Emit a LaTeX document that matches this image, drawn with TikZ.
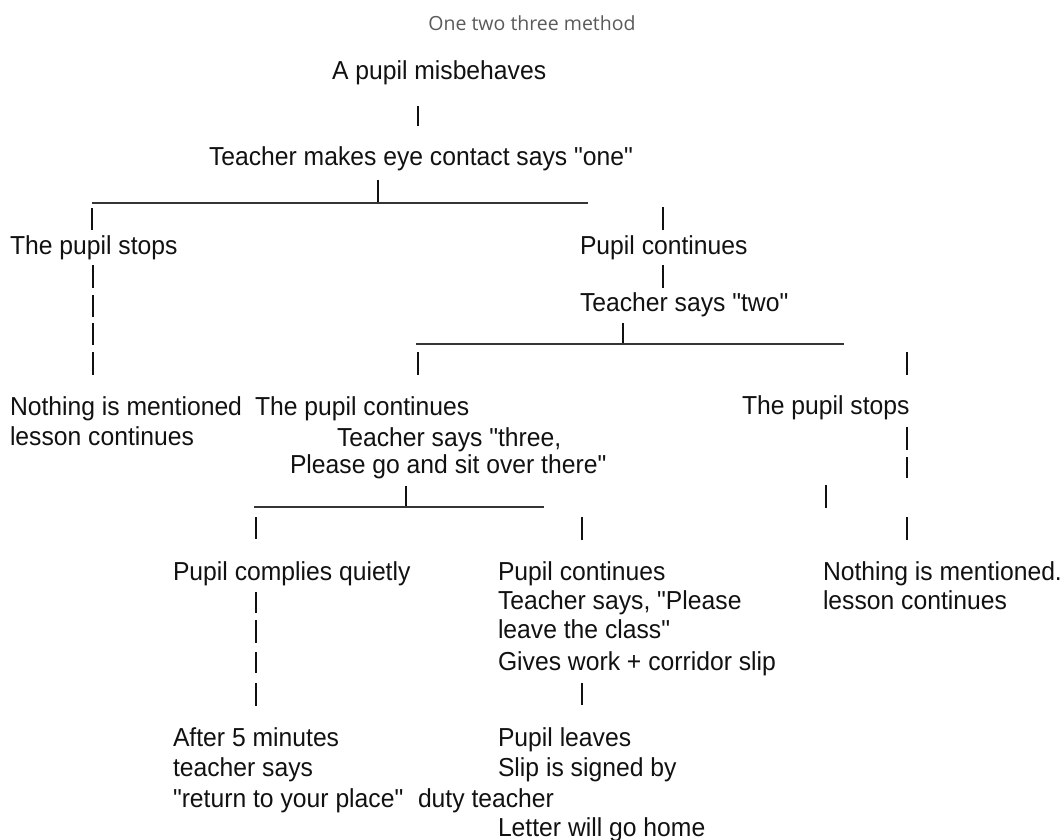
\documentclass[tikz,border=0pt]{standalone}
\usepackage{fontspec}
\newfontfamily\mainff[FakeStretch=0.95]{Liberation Sans}
\newfontfamily\titleff{Open Sans}
\definecolor{titlegray}{HTML}{5A5A5A}
\definecolor{ink}{HTML}{111111}
\tikzset{
  txt/.style={anchor=base west, inner sep=0pt, outer sep=0pt, text=ink, font=\mainff\fontsize{26}{30}\selectfont},
  ttl/.style={anchor=base, inner sep=0pt, text=titlegray, font=\titleff\fontsize{19.5}{22}\selectfont},
  pipe/.style={draw=ink, line width=1.5pt},
  hline/.style={draw=ink!85, line width=1.6pt}
}
\begin{document}
\begin{tikzpicture}[x=1pt,y=-1pt]
\useasboundingbox (0,0) rectangle (1063,840);
% title
\node[ttl] (title) at (532,31) {One two three method};
% level 0
\node[txt] (mis) at (332,80) {A pupil misbehaves};
\draw[pipe] (418,106) -- (418,126);
\node[txt] (one) at (209,166) {Teacher makes eye contact says "one"};
\draw[pipe] (378,180) -- (378,203);
\draw[hline] (92,203) -- (588,203);
\draw[pipe] (92,208) -- (92,230);
\draw[pipe] (663,207) -- (663,230);
% level 1
\node[txt] (stopA) at (10,254) {The pupil stops};
\node[txt] (contA) at (580,254) {Pupil continues};
\foreach \a/\b in {265/288,295/317,323/345,352/375} \draw[pipe] (93,\a) -- (93,\b);
\draw[pipe] (663,265) -- (663,288);
\node[txt] (two) at (580,311) {Teacher says "two"};
\draw[pipe] (623,323) -- (623,345);
\draw[hline] (416,344) -- (844,344);
\draw[pipe] (418,352) -- (418,375);
\draw[pipe] (907,352) -- (907,375);
% level 2
\node[txt] (nothA1) at (10,415) {Nothing is mentioned};
\node[txt] (nothA2) at (10,445) {lesson continues};
\node[txt] (contB) at (255,415) {The pupil continues};
\node[txt] (three1) at (337,446) {Teacher says "three,};
\node[txt] (three2) at (290,473) {Please go and sit over there"};
\node[txt] (stopB) at (742,414) {The pupil stops};
\draw[pipe] (907,427) -- (907,450);
\draw[pipe] (907,457) -- (907,478);
\draw[pipe] (826,485) -- (826,508);
\draw[pipe] (907,517) -- (907,540);
\draw[pipe] (406,486) -- (406,508);
\draw[hline] (254,507) -- (544,507);
\draw[pipe] (256,517) -- (256,539);
\draw[pipe] (582,517) -- (582,540);
% level 3
\node[txt] (comp) at (173,580) {Pupil complies quietly};
\node[txt] (contC1) at (498,580) {Pupil continues};
\node[txt] (contC2) at (498,609) {Teacher says, "Please};
\node[txt] (contC3) at (498,638) {leave the class"};
\node[txt] (contC4) at (498,670) {Gives work + corridor slip};
\node[txt] (nothB1) at (823,580) {Nothing is mentioned.};
\node[txt] (nothB2) at (823,609) {lesson continues};
\foreach \a/\b in {592/613,620/643,652/673,683/706} \draw[pipe] (256,\a) -- (256,\b);
\draw[pipe] (582,683) -- (582,705);
% level 4
\node[txt] (after1) at (173,746) {After 5 minutes};
\node[txt] (after2) at (173,776) {teacher says};
\node[txt] (after3) at (173,807) {"return to your place"};
\node[txt] (leave1) at (498,746) {Pupil leaves};
\node[txt] (leave2) at (498,776) {Slip is signed by};
\node[txt] (leave3) at (418,807) {duty teacher};
\node[txt] (leave4) at (498,836) {Letter will go home};
\end{tikzpicture}
\end{document}
